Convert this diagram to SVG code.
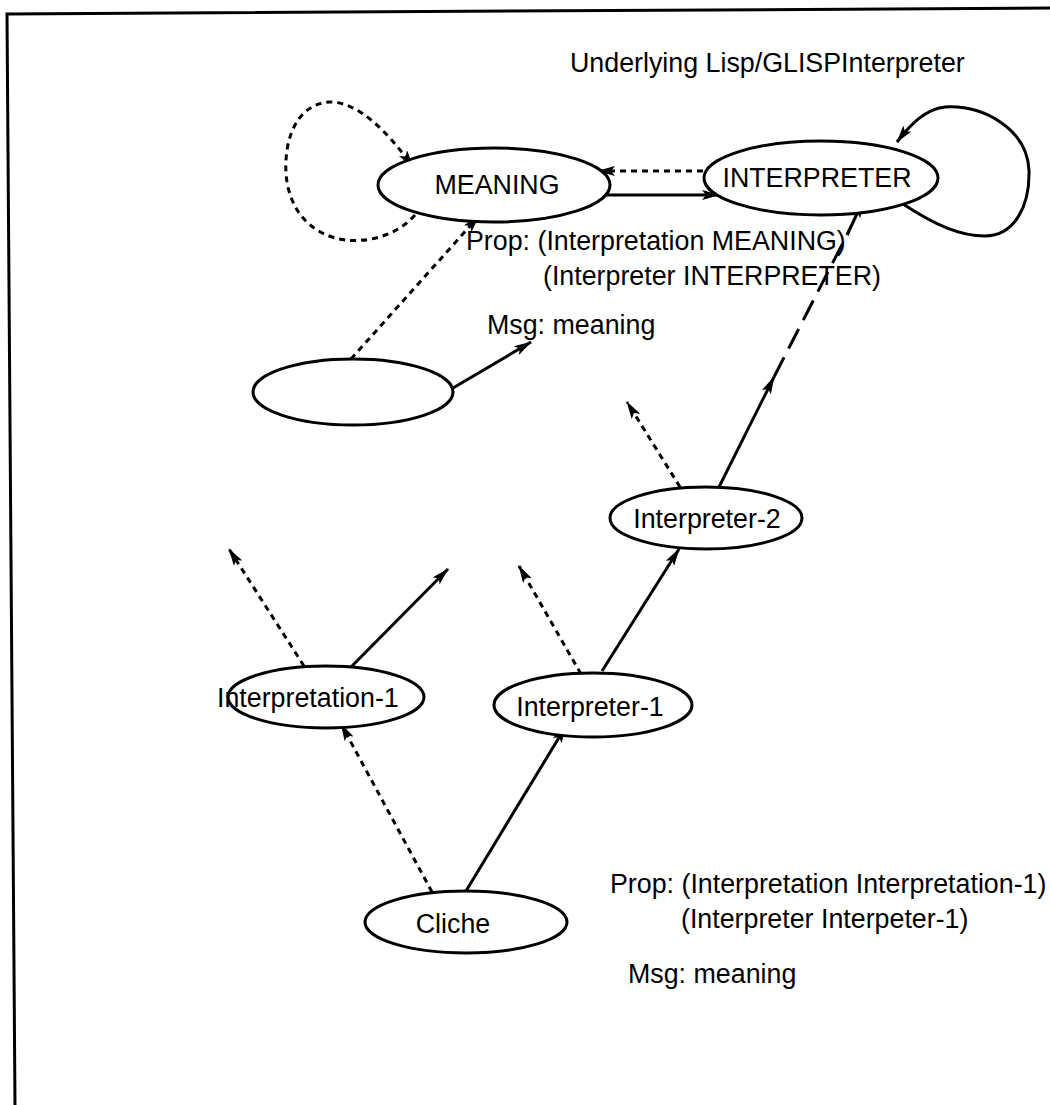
<svg xmlns="http://www.w3.org/2000/svg" width="1050" height="1105" viewBox="0 0 1050 1105">
<style>
.node{fill:#fff;stroke:#000;stroke-width:3}
.lbl{font-family:"Liberation Sans",Arial,sans-serif;font-size:26.8px;fill:#000}
.c{text-anchor:middle}
.solid{fill:none;stroke:#000;stroke-width:3}
.dash{fill:none;stroke:#000;stroke-width:3;stroke-dasharray:6,5}
.ldash{fill:none;stroke:#000;stroke-width:3;stroke-dasharray:22,10}
.arr{marker-end:url(#ah)}
</style>
<defs>
<marker id="ah" viewBox="0 0 18 10" refX="17" refY="5" markerWidth="18" markerHeight="10" markerUnits="userSpaceOnUse" orient="auto">
<path d="M0,0 L18,5 L0,10 L4,5 Z" fill="#000"/>
</marker>
</defs>
<rect width="1050" height="1105" fill="#fff"/>
<path d="M15,1105 L7,14 L1050,8" fill="none" stroke="#000" stroke-width="3"/>
<text class="lbl" x="570" y="72">Underlying Lisp/GLISPInterpreter</text>

<g id="connectors">
<path class="dash arr" d="M415,215 C395,238 360,245 335,238 C295,226 284,190 286,160 C288,125 305,103 330,102 C360,102 390,135 413,167"/>
<path class="dash arr" d="M703,171 L598,171"/>
<path class="solid arr" d="M607,195 L719,195"/>
<path class="solid arr" d="M903,204 C935,225 960,236 985,236 C1015,236 1030,205 1029,170 C1027,130 985,105 945,107 C925,109 910,125 897,142"/>
<path class="dash arr" d="M351,359 L479,216"/>
<path class="solid arr" d="M453,388 L531,342"/>
<path class="dash arr" d="M680,487 L627,402"/>
<path class="solid arr" d="M719,487 L774,377"/>
<path class="ldash" d="M774,377 L849,231"/>
<path class="solid arr" d="M847,235 L863,201"/>
<path class="dash arr" d="M304,666 L229,549"/>
<path class="solid arr" d="M351,667 L448,569"/>
<path class="dash arr" d="M581,674 L519,566"/>
<path class="solid arr" d="M602,671 L679,549"/>
<path class="dash arr" d="M432,892 L341,724"/>
<path class="solid arr" d="M466,891 L566,726"/>
</g>

<g id="meaning"><ellipse class="node" cx="494" cy="185" rx="116" ry="37"/><text class="lbl c" x="497" y="194">MEANING</text></g>
<g id="interpreter"><ellipse class="node" cx="821" cy="178" rx="117" ry="37"/><text class="lbl c" x="817" y="187">INTERPRETER</text></g>
<g id="empty"><ellipse class="node" cx="353" cy="392" rx="100" ry="33"/></g>
<g id="interpreter-2"><ellipse class="node" cx="706" cy="518" rx="96" ry="31"/><text class="lbl c" x="707" y="528">Interpreter-2</text></g>
<g id="interpretation-1"><ellipse class="node" cx="326" cy="697" rx="98" ry="31"/><text class="lbl" x="217" y="707">Interpretation-1</text></g>
<g id="interpreter-1"><ellipse class="node" cx="593" cy="705" rx="99" ry="32"/><text class="lbl c" x="590" y="716">Interpreter-1</text></g>
<g id="cliche"><ellipse class="node" cx="466" cy="922" rx="101" ry="31"/><text class="lbl c" x="453" y="933">Cliche</text></g>

<g id="labels">
<text class="lbl" x="466" y="250">Prop: (Interpretation MEANING)</text>
<text class="lbl" x="543" y="285">(Interpreter INTERPRETER)</text>
<text class="lbl" x="487" y="334">Msg: meaning</text>
<text class="lbl" x="610" y="893">Prop: (Interpretation Interpretation-1)</text>
<text class="lbl" x="681" y="928">(Interpreter Interpeter-1)</text>
<text class="lbl" x="628" y="983">Msg: meaning</text>
</g>
</svg>
